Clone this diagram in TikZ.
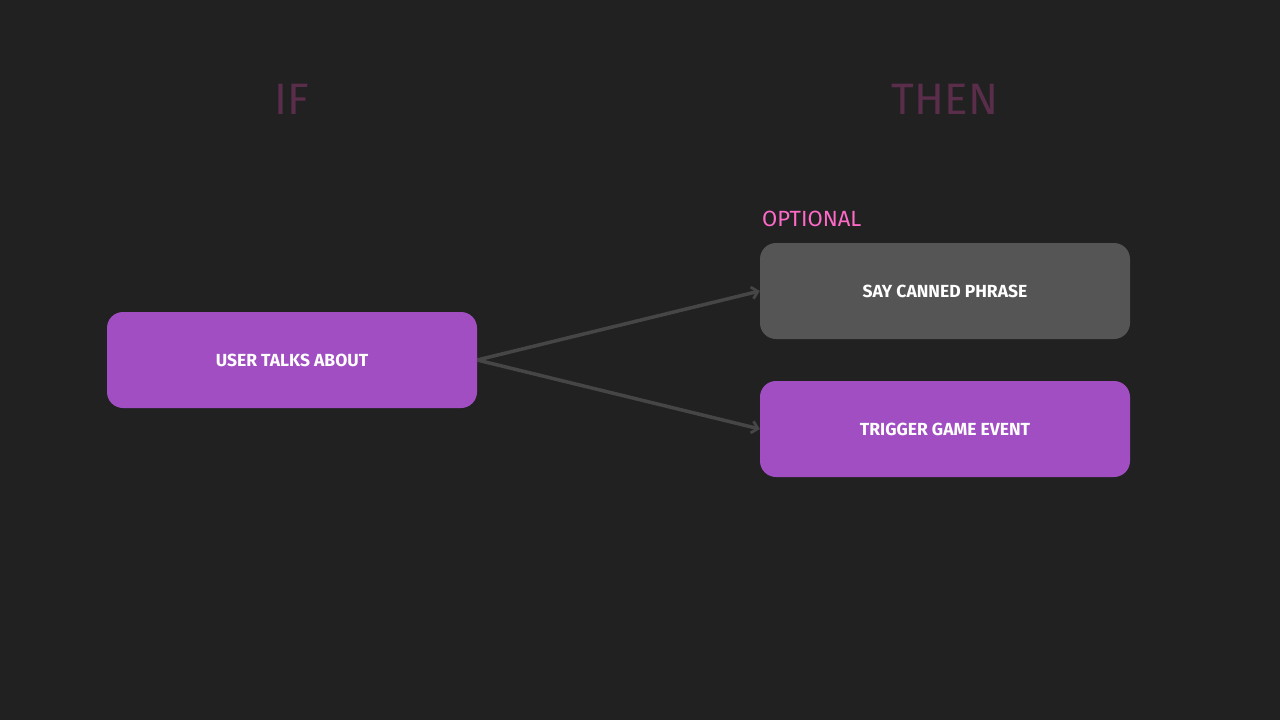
\documentclass[tikz,border=0pt]{standalone}
\usepackage{fontspec}
\setmainfont{Fira Sans}
\usetikzlibrary{arrows.meta}
\definecolor{bg}{HTML}{212121}
\definecolor{purp}{HTML}{A04EC2}
\definecolor{grayb}{HTML}{555555}
\definecolor{hdr}{HTML}{5A2D4A}
\definecolor{pink}{HTML}{FF6AC9}
\definecolor{arr}{HTML}{464646}
\tikzset{
  box/.style={rounded corners=16pt, minimum width=370pt, minimum height=96pt, inner sep=0pt,
    text=white, font=\fontsize{17.5}{20}\selectfont\bfseries},
  header/.style={text=hdr, font=\fontsize{44}{48}\selectfont, inner sep=0pt},
  link/.style={draw=arr, line width=3.5pt, -{Straight Barb[length=6pt,width=12pt,line width=2.8pt]}}
}
\begin{document}
\begin{tikzpicture}[x=1pt,y=-1pt]
\fill[bg] (0,0) rectangle (1280,720);
\useasboundingbox (0,0) rectangle (1280,720);
\node[header] (if) at (292,99) {IF};
\node[header] (then) at (945,99) {THEN};
\node[text=pink, font=\fontsize{22}{24}\selectfont, anchor=base west, inner sep=0pt] (opt) at (762,226) {OPTIONAL};
\node[box, fill=purp] (user) at (292,360) {USER TALKS ABOUT};
\node[box, fill=grayb] (say) at (945,291) {SAY CANNED PHRASE};
\node[box, fill=purp] (trig) at (945,429) {TRIGGER GAME EVENT};
\draw[link] (user.east) -- (say.west);
\draw[link] (user.east) -- (trig.west);
\end{tikzpicture}
\end{document}
